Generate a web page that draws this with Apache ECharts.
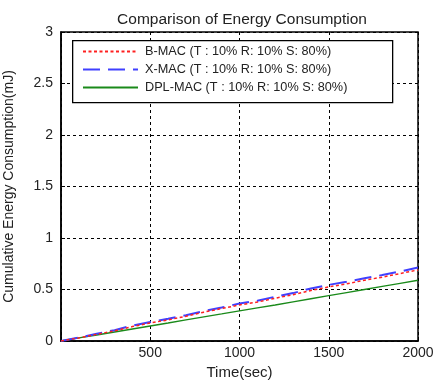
<!DOCTYPE html>
<html><head><meta charset="utf-8">
<script src="https://cdn.jsdelivr.net/npm/echarts@6/dist/echarts.min.js"></script>
<style>html,body{margin:0;padding:0;background:#fff}#c{width:435px;height:381px}</style>
</head><body><div id="c"></div>
<script>
const time = [0,100,200,300,400,500,600,700,800,900,1000,1100,1200,1300,1400,1500,1600,1700,1800,1900,2000];
const bmac = [0,0.03,0.065,0.098,0.14,0.175,0.205,0.24,0.28,0.315,0.35,0.378,0.415,0.45,0.49,0.525,0.555,0.59,0.62,0.655,0.69];
const xmac = [0,0.033,0.07,0.105,0.15,0.185,0.215,0.25,0.29,0.325,0.364,0.39,0.43,0.465,0.51,0.545,0.575,0.61,0.64,0.675,0.714];
const dplmac = [0,0.03,0.058,0.088,0.117,0.146,0.175,0.205,0.234,0.263,0.293,0.322,0.35,0.38,0.41,0.44,0.47,0.5,0.53,0.56,0.59];
const names = ['B-MAC (T : 10% R: 10% S: 80%)','X-MAC (T : 10% R: 10% S: 80%)','DPL-MAC (T : 10% R: 10% S: 80%)'];
const pair = (a) => time.map((t,i)=>[t,a[i]]);
const font = 'Liberation Sans, Arial, sans-serif';
const chart = echarts.init(document.getElementById('c'));
chart.setOption({
  animation:false,
  backgroundColor:'#fff',
  title:{text:'Comparison of Energy Consumption',left:237,textAlign:'center',top:7,
    textStyle:{fontFamily:font,fontSize:15.5,fontWeight:'normal',color:'#222'}},
  graphic:[{type:'rect',left:72,top:40,z:10,shape:{width:320,height:62},
    style:{fill:'#fff',stroke:'#000',lineWidth:1.3}}],
  legend:{left:82,top:45,orient:'vertical',itemWidth:55,itemHeight:14,itemGap:5,padding:0,z:20,
    itemStyle:{opacity:0},
    textStyle:{fontFamily:font,fontSize:12.7,color:'#222',padding:[0,0,0,2]},data:names},
  grid:{left:61,right:17,top:32,bottom:40,show:true,borderColor:'#000',borderWidth:1.5,
    outerBoundsMode:'none',containLabel:false},
  xAxis:{type:'value',min:0,max:2000,interval:500,name:'Time(sec)',nameLocation:'middle',nameGap:22,
    nameTextStyle:{fontFamily:font,fontSize:15,color:'#222'},
    axisLine:{show:true,lineStyle:{color:'#000',width:1.5}},
    axisTick:{show:true,inside:true,length:4,lineStyle:{color:'#000'}},
    axisLabel:{fontFamily:font,fontSize:14,color:'#222',margin:5,formatter:v=>v===0?'':String(v)},
    splitLine:{show:true,lineStyle:{color:'#000',type:[3,3],width:1}}},
  yAxis:{type:'value',min:0,max:3,interval:0.5,name:'Cumulative Energy Consumption(mJ)',nameLocation:'middle',nameGap:45,
    nameTextStyle:{fontFamily:font,fontSize:14,color:'#222'},
    axisLine:{show:true,lineStyle:{color:'#000',width:1.5}},
    axisTick:{show:true,inside:true,length:4,lineStyle:{color:'#000'}},
    axisLabel:{fontFamily:font,fontSize:14,color:'#222',margin:8},
    splitLine:{show:true,lineStyle:{color:'#000',type:[3,3],width:1}}},
  series:[
    {name:names[0],type:'line',data:pair(bmac),symbol:'none',z:4,
      lineStyle:{color:'#ff2020',width:1.5,type:[3,2.5]},itemStyle:{color:'#ff2020'}},
    {name:names[1],type:'line',data:pair(xmac),symbol:'none',z:3,
      lineStyle:{color:'#4040ff',width:2,type:[17,8]},itemStyle:{color:'#4040ff'}},
    {name:names[2],type:'line',data:pair(dplmac),symbol:'none',z:2,
      lineStyle:{color:'#1a8a1a',width:1.4},itemStyle:{color:'#1a8a1a'}}
  ]
});
</script></body></html>
